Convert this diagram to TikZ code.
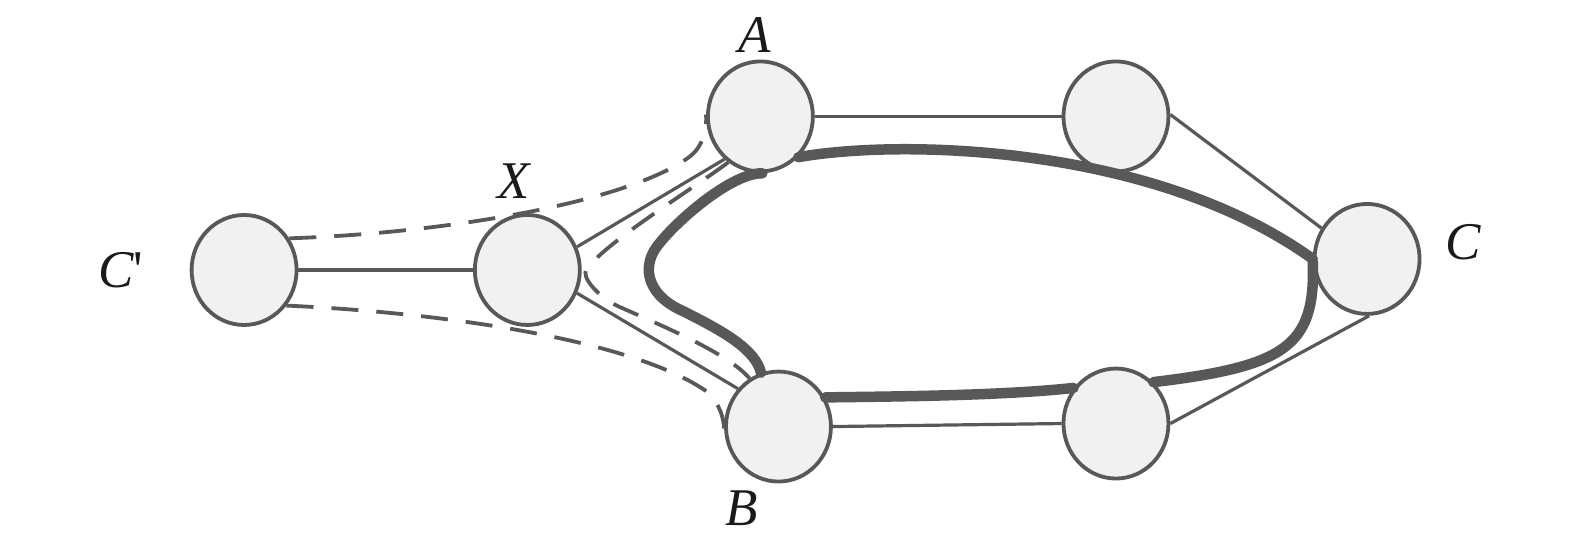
\documentclass[tikz,border=0pt]{standalone}
\usepackage{fontspec}
\newfontfamily\lblfont{Liberation Serif}
\usetikzlibrary{shapes.geometric}
\definecolor{lc}{RGB}{88,88,88}
\definecolor{fc}{RGB}{241,241,241}
\definecolor{tc}{RGB}{26,26,26}
\pgfdeclarelayer{background}
\pgfsetlayers{background,main}
\begin{document}
\begin{tikzpicture}[x=1.00446pt,y=-1.00364pt,
  vert/.style={ellipse, draw=lc, fill=fc, line width=3.8pt, minimum width=105pt, minimum height=110pt, inner sep=0pt},
  edge/.style={draw=lc, line width=3.2pt},
  cut/.style={draw=lc, line width=3.8pt, dash pattern=on 27pt off 18pt},
  heavy/.style={draw=lc, line width=10.5pt, line cap=round},
  lbl/.style={text=tc, font=\lblfont\itshape\fontsize{53}{60}\selectfont, inner sep=0pt}]
\useasboundingbox (0,0) rectangle (1568,549);
% vertices
\node[vert] (Cp) at (243,269) {};
\node[vert] (X) at (525,269) {};
\node[vert] (A) at (757,116) {};
\node[vert] (T) at (1111,116) {};
\node[vert] (C) at (1361,258) {};
\node[vert] (B) at (775,425) {};
\node[vert] (R) at (1111,422) {};
% labels
\node[lbl] (lA) at (751,35) {A};
\node[lbl] (lX) at (511,180) {X};
\node[lbl] (lCp) at (120,269) {C{\upshape\char"0027}};
\node[lbl] (lC) at (1457,241) {C};
\node[lbl] (lB) at (738,506) {B};
\begin{pgfonlayer}{background}
% solid edges
\draw[edge] (Cp.east) -- (X.west);
\draw[edge] (X.25) -- (A.230);
\draw[edge] (X.335) -- (B.137);
\draw[edge] (A.east) -- (T.west);
\draw[edge] (T.2) -- (C.146);
\draw[edge] (B.east) -- (R.west);
\draw[edge] (R.0) -- (C.272);
% dashed cuts
\draw[cut] (Cp.35) .. controls (450,232) and (630,200) .. (688,155)
  .. controls (699,146) and (704,130) .. (A.178);
\draw[cut] (Cp.320) .. controls (450,312) and (630,340) .. (702,389)
  .. controls (712,397) and (720,410) .. (B.182);
\draw[cut] (A.235) .. controls (690,188) and (605,240) .. (584,268)
  .. controls (578,276) and (595,295) .. (615,305)
  .. controls (660,325) and (725,352) .. (B.121);
\end{pgfonlayer}
% heavy cycle
\draw[heavy] (A.272) .. controls (725,172) and (660,232) .. (650,252)
  .. controls (640,272) and (648,296) .. (680,310)
  .. controls (720,330) and (752,348) .. (B.108);
\draw[heavy] (A.313) .. controls (900,138) and (1150,145) .. (C.180);
\draw[heavy] (C.183) .. controls (1310,345) and (1280,365) .. (R.48);
\draw[heavy] (B.32) .. controls (900,395) and (1000,394) .. (R.140);
\end{tikzpicture}
\end{document}
